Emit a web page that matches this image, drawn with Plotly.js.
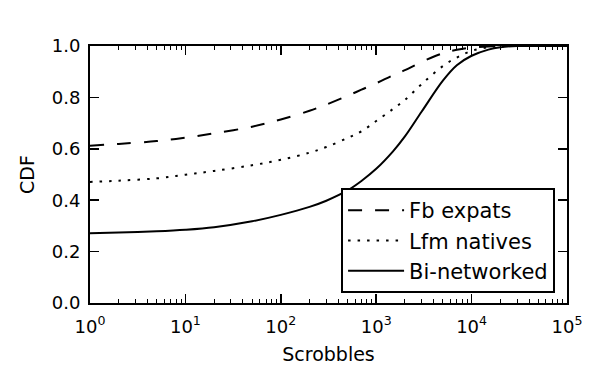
<!DOCTYPE html>
<html>
<head>
<meta charset="utf-8">
<script src="https://cdn.plot.ly/plotly-3.0.1.min.js"></script>
<style>body{margin:0;background:#fff}</style>
</head>
<body>
<div id="myDiv" style="width:598px;height:370px"></div>
<script>
// scrobble counts (x) and CDF values
var scrobbles = [1, 2, 5, 10, 20, 50, 100, 200, 300, 500, 700, 1000, 1500, 2000, 3000, 5000, 7000, 10000, 15000, 20000, 30000, 50000, 100000];
var fbExpats = [0.612, 0.619, 0.630, 0.643, 0.660, 0.686, 0.714, 0.748, 0.772, 0.806, 0.830, 0.855, 0.886, 0.906, 0.938, 0.972, 0.985, 0.994, 0.998, 1.0, 1.0, 1.0, 1.0];
var lfmNatives = [0.471, 0.476, 0.485, 0.499, 0.514, 0.536, 0.557, 0.585, 0.607, 0.642, 0.668, 0.708, 0.755, 0.790, 0.852, 0.922, 0.955, 0.981, 0.995, 0.999, 1.0, 1.0, 1.0];
var biNetworked = [0.271, 0.274, 0.279, 0.285, 0.295, 0.318, 0.343, 0.374, 0.398, 0.438, 0.475, 0.522, 0.590, 0.648, 0.745, 0.865, 0.925, 0.962, 0.986, 0.995, 1.0, 1.0, 1.0];

var xTickVals = [1, 10, 100, 1000, 10000, 100000];
var xTickText = ["10<sup>0</sup>", "10<sup>1</sup>", "10<sup>2</sup>", "10<sup>3</sup>", "10<sup>4</sup>", "10<sup>5</sup>"];
var yTickVals = [0, 0.2, 0.4, 0.6, 0.8, 1.0];

var font = "DejaVu Sans, sans-serif";

var fb = {
  x: scrobbles, y: fbExpats, mode: "lines", name: "Fb expats",
  line: {color: "black", width: 2, dash: "14px,13px", shape: "spline", smoothing: 1}
};
var lfm = {
  x: scrobbles, y: lfmNatives, mode: "lines", name: "Lfm natives",
  line: {color: "black", width: 2, dash: "2.5px,7px", shape: "spline", smoothing: 1}
};
var bi = {
  x: scrobbles, y: biNetworked, mode: "lines", name: "Bi-networked",
  line: {color: "black", width: 2, shape: "spline", smoothing: 1}
};

var layout = {
  width: 598, height: 370,
  margin: {l: 90, r: 31, t: 46, b: 67},
  paper_bgcolor: "white", plot_bgcolor: "white",
  font: {family: font, size: 18, color: "black"},
  showlegend: true,
  legend: {
    x: 0.975, y: 0.039, xanchor: "right", yanchor: "bottom",
    bordercolor: "black", borderwidth: 2, bgcolor: "white",
    itemwidth: 56,
    font: {family: font, size: 21, color: "black"}
  },
  xaxis: {
    type: "log", range: [0, 5],
    tickmode: "array", tickvals: xTickVals, ticktext: xTickText,
    ticks: "inside", ticklen: 9, tickwidth: 1.5, tickcolor: "black",
    ticklabelstandoff: 6,
    showline: true, linewidth: 2, linecolor: "black", mirror: "ticks",
    showgrid: false, zeroline: false,
    minor: {ticks: "inside", ticklen: 4, tickwidth: 1, tickcolor: "black", dtick: "D1", showgrid: false},
    title: {text: "Scrobbles", font: {family: font, size: 19}, standoff: 12}
  },
  yaxis: {
    range: [0, 1],
    tickmode: "array", tickvals: yTickVals, tickformat: ".1f",
    ticks: "inside", ticklen: 9, tickwidth: 1.5, tickcolor: "black",
    ticklabelstandoff: 4,
    showline: true, linewidth: 2, linecolor: "black", mirror: "ticks",
    showgrid: false, zeroline: false,
    title: {text: "CDF", font: {family: font, size: 19}, standoff: 12}
  }
};

Plotly.newPlot("myDiv", [fb, lfm, bi], layout, {displayModeBar: false, staticPlot: true});
</script>
</body>
</html>
